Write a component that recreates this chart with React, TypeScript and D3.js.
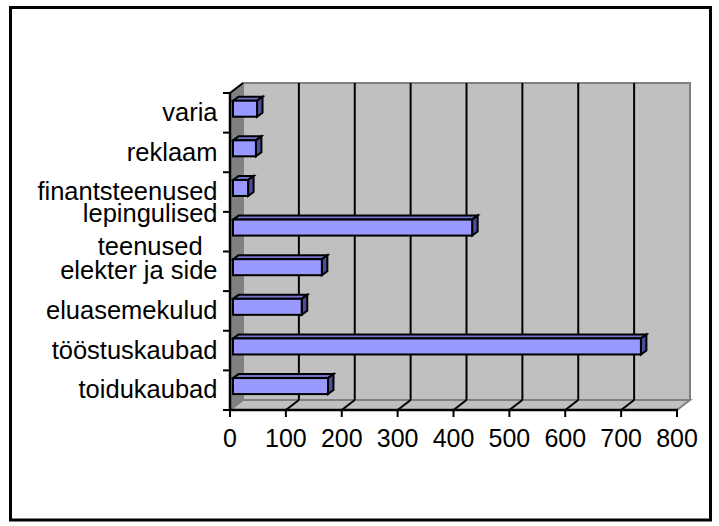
import React from "react";
import * as d3 from "d3";

const categories = [
  "toidukaubad",
  "tööstuskaubad",
  "eluasemekulud",
  "elekter ja side",
  "lepingulised teenused",
  "finantsteenused",
  "reklaam",
  "varia",
];
const categoryLabelLines = [
  ["toidukaubad"],
  ["tööstuskaubad"],
  ["eluasemekulud"],
  ["elekter ja side"],
  ["lepingulised", "teenused"],
  ["finantsteenused"],
  ["reklaam"],
  ["varia"],
];
const values = [170, 730, 123, 159, 428, 27, 41, 43];
const xTicks = [0, 100, 200, 300, 400, 500, 600, 700, 800];

const W = 719;
const H = 526;
const FONT = "'Liberation Sans', Arial, Helvetica, sans-serif";
const DX = 13;
const DY = -10;

function measure(text: string, size: number): number {
  if (typeof document === "undefined") return text.length * size * 0.5;
  const c = document.createElement("canvas");
  const ctx = c.getContext("2d");
  if (!ctx) return text.length * size * 0.5;
  ctx.font = `${size}px ${FONT}`;
  return ctx.measureText(text).width;
}

export default function App() {
  const x = d3.scaleLinear().domain([0, 800]).range([230, 677]);
  const y = d3
    .scaleBand<string>()
    .domain([...categories].reverse())
    .range([93, 410])
    .paddingInner(0)
    .paddingOuter(0);
  const bw = y.bandwidth();
  const boundaries = d3.range(categories.length + 1).map((i) => 93 + i * bw);

  const barShift = 3;
  const bdx = 5.5;
  const bdy = -4;
  const labelSize = 25.5;
  const tickSize = 25;
  const labelRight = 217.5;

  const backL = x(0) + DX;
  const backR = x(800) + DX;
  const backT = 93 + DY;
  const backB = 410 + DY;

  return (
    <svg
      width={W}
      height={H}
      style={{ position: "absolute", left: 0, top: 0, background: "#fff" }}
      xmlns="http://www.w3.org/2000/svg"
    >
      <rect x={10.5} y={7.5} width={700} height={512.5} fill="#fff" stroke="#000" strokeWidth={3} />

      {/* back wall */}
      <rect x={backL} y={backT} width={backR - backL} height={backB - backT} fill="#c0c0c0" stroke="#808080" strokeWidth={2} />
      {/* left wall */}
      <polygon
        points={`${x(0)},93 ${backL},${backT} ${backL},${backB} ${x(0)},410`}
        fill="#808080"
        stroke="#808080"
        strokeWidth={1}
      />
      {/* floor */}
      <polygon
        points={`${x(0)},410 ${backL},${backB} ${backR},${backB} ${x(800)},410`}
        fill="#c0c0c0"
        stroke="#808080"
        strokeWidth={2}
      />
      {/* gridlines on back wall */}
      {xTicks.slice(1, -1).map((v) => (
        <line key={"g" + v} x1={x(v) + DX} x2={x(v) + DX} y1={backT} y2={backB} stroke="#000" strokeWidth={2} />
      ))}
      {/* floor diagonals */}
      {xTicks.slice(1, -1).map((v) => (
        <line key={"f" + v} x1={x(v)} y1={410} x2={x(v) + DX} y2={backB} stroke="#000" strokeWidth={2} />
      ))}

      {/* bars */}
      {categories.map((c, i) => {
        const x1 = x(0) + barShift;
        const x2 = x(values[i]) + barShift;
        const yT = (y(c) as number) + 7.7;
        const yB = yT + 16;
        return (
          <g key={"b" + c} stroke="#000" strokeWidth={2} strokeLinejoin="miter">
            <polygon
              points={`${x1},${yT} ${x1 + bdx},${yT + bdy} ${x2 + bdx},${yT + bdy} ${x2},${yT}`}
              fill="#7373cc"
            />
            <polygon
              points={`${x2},${yT} ${x2 + bdx},${yT + bdy} ${x2 + bdx},${yB + bdy} ${x2},${yB}`}
              fill="#4d4d99"
            />
            <rect x={x1} y={yT} width={x2 - x1} height={yB - yT} fill="#9999ff" />
          </g>
        );
      })}

      {/* axes */}
      <line x1={x(0)} y1={93} x2={backL} y2={backT} stroke="#000" strokeWidth={2} />
      <line x1={x(0)} y1={92} x2={x(0)} y2={411} stroke="#000" strokeWidth={2.5} />
      <line x1={x(0) - 1} y1={410} x2={x(800) + 1} y2={410} stroke="#000" strokeWidth={2.5} />
      {xTicks.map((v) => (
        <line key={"xt" + v} x1={x(v)} x2={x(v)} y1={410} y2={417} stroke="#000" strokeWidth={2} />
      ))}
      {boundaries.map((b, i) => (
        <line key={"yt" + i} x1={223} x2={x(0)} y1={b} y2={b} stroke="#000" strokeWidth={2} />
      ))}

      {/* x tick labels */}
      {xTicks.map((v) => (
        <text
          key={"xl" + v}
          x={x(v)}
          y={446.5}
          textAnchor="middle"
          fontFamily={FONT}
          fontSize={tickSize}
          fill="#000"
        >
          {v}
        </text>
      ))}

      {/* category labels */}
      {categories.map((c, i) => {
        const lines = categoryLabelLines[i];
        const cy = (y(c) as number) + bw / 2;
        if (lines.length === 1) {
          return (
            <text
              key={"cl" + c}
              x={labelRight}
              y={cy + 8.1}
              textAnchor="end"
              fontFamily={FONT}
              fontSize={labelSize}
              fill="#000"
            >
              {lines[0]}
            </text>
          );
        }
        const maxW = Math.max(...lines.map((l) => measure(l, labelSize)));
        const cx = labelRight - maxW / 2;
        const gap = 33.3;
        const start = cy - ((lines.length - 1) * gap) / 2;
        return (
          <g key={"cl" + c}>
            {lines.map((l, k) => (
              <text
                key={k}
                x={cx}
                y={start + k * gap + 6.8}
                textAnchor="middle"
                fontFamily={FONT}
                fontSize={labelSize}
                fill="#000"
              >
                {l}
              </text>
            ))}
          </g>
        );
      })}
    </svg>
  );
}
